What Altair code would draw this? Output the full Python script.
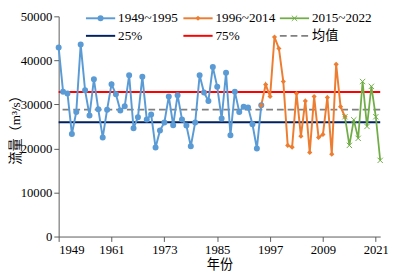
import altair as alt
import pandas as pd

FONT = "'Liberation Serif', 'DejaVu Serif', 'Noto Sans CJK SC', serif"

years_a = list(range(1949, 1996))
flow_a = [42900, 32900, 32500, 23300, 28300, 43600, 33200, 27500, 35700, 28900,
          22500, 28800, 34600, 32300, 28600, 29600, 36600, 24600, 27100, 36300,
          26600, 27700, 20200, 24100, 25900, 31800, 25300, 32100, 26600, 25200,
          20500, 25900, 36600, 32700, 30800, 38500, 34000, 26800, 37200, 23000,
          32900, 28300, 29500, 29300, 25500, 20000, 29800]
years_b = list(range(1995, 2015))
flow_b = [29800, 34500, 31800, 45300, 42700, 35200, 20700, 20300, 32500, 22800,
          30800, 19100, 31800, 22500, 23200, 31600, 18700, 39100, 29500, 27200]
years_c = list(range(2014, 2023))
flow_c = [27200, 20700, 26500, 22300, 35200, 25000, 34100, 27200, 17300]

q25 = 25970
q75 = 32830
mean_v = 28820

x_ticks = [1949, 1961, 1973, 1985, 1997, 2009, 2021]
y_ticks = list(range(0, 50001, 5000))

W, H = 330, 226
xs = alt.Scale(domain=[1949, 2022], nice=False, zero=False)
ys = alt.Scale(domain=[0, 50000], nice=False)

df_a = pd.DataFrame({"year": years_a, "flow": flow_a})
df_b = pd.DataFrame({"year": years_b, "flow": flow_b})
df_c = pd.DataFrame({"year": years_c, "flow": flow_c})

X = alt.X("year:Q", scale=xs, title="年份",
          axis=alt.Axis(values=x_ticks, format="d", grid=False))
Y = alt.Y("flow:Q", scale=ys, title="流量（m³/s）",
          axis=alt.Axis(values=y_ticks, format="d", grid=False,
                        titleX=-44, titleY=H / 2, titleBaseline="middle",
                        titleAlign="center", titleAngle=270))

BLUE, ORANGE, GREEN = "#5B9BD5", "#ED7D31", "#70AD47"
NAVY, RED, GRAY = "#002060", "#FF0000", "#808080"
XSHAPE = "M-1,-1L1,1M-1,1L1,-1"

one = pd.DataFrame({"k": [0]})

def hline(v, color, dash=None):
    kw = dict(color=color, strokeWidth=2)
    if dash:
        kw["strokeDash"] = dash
        kw["strokeWidth"] = 1.8
    return alt.Chart(pd.DataFrame({"v": [v]})).mark_rule(**kw).encode(
        y=alt.Y("v:Q", scale=ys))

ref = hline(q25, NAVY) + hline(q75, RED) + hline(mean_v, GRAY, [7, 4])

line_a = alt.Chart(df_a).mark_line(color=BLUE, strokeWidth=2).encode(x=X, y=Y)
pts_a = alt.Chart(df_a).mark_point(color=BLUE, filled=True, opacity=1, size=38,
                                    shape="circle").encode(x=X, y=Y)
line_b = alt.Chart(df_b).mark_line(color=ORANGE, strokeWidth=2).encode(x=X, y=Y)
pts_b = alt.Chart(df_b).mark_point(color=ORANGE, filled=True, opacity=1, size=28,
                                    shape="diamond").encode(x=X, y=Y)
line_c = alt.Chart(df_c).mark_line(color=GREEN, strokeWidth=1.8).encode(x=X, y=Y)
pts_c = alt.Chart(df_c).mark_point(color=GREEN, filled=False, opacity=1, size=30,
                                    strokeWidth=1, shape=XSHAPE).encode(x=X, y=Y)

legend_layers = []
def leg_item(x0, y0, color, label, shape=None, size=30, filled=True, dash=None, sw=2):
    kw = dict(color=color, strokeWidth=sw)
    if dash:
        kw["strokeDash"] = dash
    layers = [alt.Chart(one).mark_rule(**kw).encode(
        x=alt.value(x0), x2=alt.value(x0 + 30), y=alt.value(y0))]
    if shape:
        layers.append(alt.Chart(one).mark_point(
            color=color, filled=filled, opacity=1, size=size, shape=shape,
            strokeWidth=1).encode(x=alt.value(x0 + 15), y=alt.value(y0)))
    layers.append(alt.Chart(one).mark_text(
        align="left", baseline="middle", font=FONT, fontSize=13.5,
        color="#000000").encode(x=alt.value(x0 + 33), y=alt.value(y0),
                                 text=alt.value(label)))
    return layers

r1, r2 = 2, 20
legend_layers += leg_item(28, r1, BLUE, "1949~1995", "circle", 38)
legend_layers += leg_item(128, r1, ORANGE, "1996~2014", "diamond", 28)
legend_layers += leg_item(227, r1, GREEN, "2015~2022", XSHAPE, 30, filled=False, sw=1.8)
legend_layers += leg_item(28, r2, NAVY, "25%")
legend_layers += leg_item(128, r2, RED, "75%")
legend_layers += leg_item(227, r2, GRAY, "均值", dash=[7, 4], sw=1.8)

chart = alt.layer(ref, line_a, line_b, line_c, pts_a, pts_b, pts_c,
                  *legend_layers).properties(
    width=W, height=H,
    autosize=alt.AutoSizeParams(type="none"),
    padding={"left": 52, "top": 5, "right": 8, "bottom": 40},
).configure_view(stroke=None).configure_axis(
    labelFont=FONT, titleFont=FONT, labelFontSize=13, titleFontSize=13.5,
    labelColor="#000000", titleColor="#000000", titleFontWeight="normal",
    domainColor="#595959", tickColor="#595959", tickSize=5, labelPadding=2,
    domainWidth=1,
).configure_axisX(titlePadding=2)

chart.save("out.html", embed_options={"renderer": "svg", "actions": False})
